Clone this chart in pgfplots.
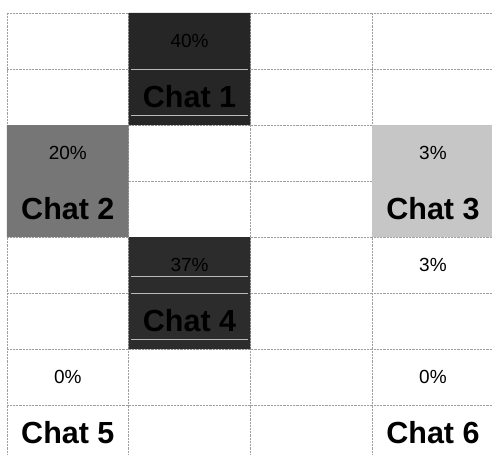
\documentclass[border=0pt]{standalone}
\usepackage{pgfplots}
\pgfplotsset{compat=1.18}
\usepackage{fontspec}
\setmainfont{Liberation Sans}
\definecolor{cA}{HTML}{262626}
\definecolor{cB}{HTML}{767676}
\definecolor{cC}{HTML}{C6C6C6}
\definecolor{cD}{HTML}{2C2C2C}
\newcommand{\chatfont}{\fontsize{30.5}{31}\selectfont\bfseries}
\newcommand{\pctfont}{\fontsize{19}{20}\selectfont}
\begin{document}
\begin{tikzpicture}
\begin{axis}[
  width=492pt, height=454pt, scale only axis,
  xmin=-0.0575, xmax=3.985, ymin=-0.232, ymax=7.875, y dir=reverse,
  hide axis, clip=true,
  gridline/.style={densely dotted, gray!75, line width=0.45pt, forget plot},
]
% grid lines
\foreach \gx in {0,1,2,3} {
  \edef\tmp{\noexpand\addplot[gridline] coordinates {(\gx,0) (\gx,8.2)};}\tmp
}
\foreach \gy in {0,1,2,3,4,5,6,7} {
  \edef\tmp{\noexpand\addplot[gridline] coordinates {(0,\gy) (4.2,\gy)};}\tmp
}
% Chat 1 (40%)
\addplot[fill=cA, draw=none] coordinates {(1,0) (2,0) (2,2) (1,2) (1,0)};
% Chat 2 (20%)
\addplot[fill=cB, draw=none] coordinates {(0,2) (1,2) (1,4) (0,4) (0,2)};
% Chat 3 (3%)
\addplot[fill=cC, draw=none] coordinates {(3,2) (4.1,2) (4.1,4) (3,4) (3,2)};
% Chat 4 (37%)
\addplot[fill=cD, draw=none] coordinates {(1,4) (2,4) (2,6) (1,6) (1,4)};
% faint scan lines inside the dark blocks
\addplot[gray!55, line width=0.7pt] coordinates {(1.02,1) (1.98,1)};
\addplot[gray!55, line width=0.7pt] coordinates {(1.02,1.82) (1.98,1.82)};
\addplot[gray!55, line width=0.7pt] coordinates {(1.02,4.71) (1.98,4.71)};
\addplot[gray!55, line width=0.7pt] coordinates {(1.02,5) (1.98,5)};
\addplot[gray!55, line width=0.7pt] coordinates {(1.02,5.82) (1.98,5.82)};
% labels
\node[text=black] at (axis cs:1.5,0.5) {\pctfont 40\%};
\node[text=black] at (axis cs:1.5,1.5) {\chatfont Chat 1};
\node[text=black] at (axis cs:0.5,2.5) {\pctfont 20\%};
\node[text=black] at (axis cs:0.5,3.5) {\chatfont Chat 2};
\node[text=black] at (axis cs:3.5,2.5) {\pctfont 3\%};
\node[text=black] at (axis cs:3.5,3.5) {\chatfont Chat 3};
\node[text=black] at (axis cs:1.5,4.5) {\pctfont 37\%};
\node[text=black] at (axis cs:1.5,5.5) {\chatfont Chat 4};
\node[text=black] at (axis cs:3.5,4.5) {\pctfont 3\%};
\node[text=black] at (axis cs:0.5,6.5) {\pctfont 0\%};
\node[text=black] at (axis cs:0.5,7.5) {\chatfont Chat 5};
\node[text=black] at (axis cs:3.5,6.5) {\pctfont 0\%};
\node[text=black] at (axis cs:3.5,7.5) {\chatfont Chat 6};
\end{axis}
\pgfresetboundingbox
\useasboundingbox (current axis.south west) rectangle (current axis.north east);
\end{tikzpicture}
\end{document}
